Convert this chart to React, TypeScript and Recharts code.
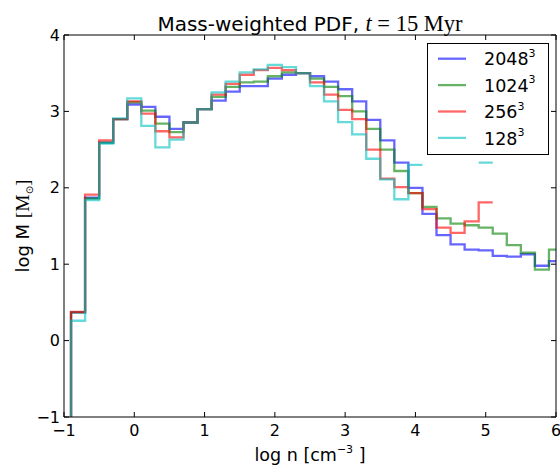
import React from 'react';
import { LineChart, Line, XAxis, YAxis } from 'recharts';

// bin centres in log n (bin width 0.2)
const binCenters = [
  -1.0, -0.8, -0.6, -0.4, -0.2, 0.0, 0.2, 0.4, 0.6, 0.8, 1.0, 1.2,
  1.4, 1.6, 1.8, 2.0, 2.2, 2.4, 2.6, 2.8, 3.0, 3.2, 3.4, 3.6,
  3.8, 4.0, 4.2, 4.4, 4.6, 4.8, 5.0, 5.2, 5.4, 5.6, 5.8, 6.0
];

// log M per bin, null = empty bin
const mass2048 = [
  -2, 0.37, 1.87, 2.59, 2.9, 3.09, 3.06, 2.93, 2.77, 2.855, 3.03, 3.14,
  3.26, 3.33, 3.33, 3.43, 3.48, 3.5, 3.46, 3.39, 3.29, 3.13, 2.89, 2.62,
  2.33, 2.0, 1.66, 1.38, 1.26, 1.19, 1.18, 1.11, 1.1, 1.13, 0.98, 1.04
];
const mass1024 = [
  -2, 0.37, 1.86, 2.59, 2.9, 3.12, 3.01, 2.84, 2.73, 2.855, 3.03, 3.19,
  3.32, 3.38, 3.39, 3.46, 3.51, 3.5, 3.43, 3.32, 3.2, 3.0, 2.77, 2.5,
  2.22, 1.93, 1.75, 1.6, 1.53, 1.51, 1.48, 1.4, 1.25, 1.15, 0.93, 1.19
];
const mass256 = [
  -2, 0.375, 1.91, 2.62, 2.9, 3.13, 2.97, 2.74, 2.66, 2.855, 3.03, 3.22,
  3.36, 3.48, 3.54, 3.57, 3.54, 3.5, 3.38, 3.22, 3.02, 2.9, 2.5, 2.12,
  2.01, 1.93, 1.72, 1.48, 1.41, 1.56, 1.81, null, null, null, null, null
];
const mass128 = [
  -2, 0.26, 1.84, 2.58, 2.91, 3.17, 2.81, 2.53, 2.63, 2.855, 3.03, 3.25,
  3.39, 3.51, 3.55, 3.61, 3.58, 3.5, 3.33, 3.13, 2.86, 2.7, 2.38, 2.11,
  1.85, 2.3, null, null, null, null, 2.33, null, null, null, null, null
];

const xTicks = [-1, 0, 1, 2, 3, 4, 5, 6];
const yTicks = [-1, 0, 1, 2, 3, 4];

const series = [
  { key: 'm2048', label: '2048', color: '#0000ff', values: mass2048 },
  { key: 'm1024', label: '1024', color: '#008000', values: mass1024 },
  { key: 'm256', label: '256', color: '#ff0000', values: mass256 },
  { key: 'm128', label: '128', color: '#00bfbf', values: mass128 }
];

const HALF_BIN = 0.1;
const FONT = 'DejaVu Sans';
const SERIF = 'Liberation Serif';

// two rows per bin (left and right edge) -> histogram steps
const buildRows = () => {
  const rows: Array<Record<string, number | null>> = [];
  binCenters.forEach((c, i) => {
    [c - HALF_BIN, c + HALF_BIN].forEach((x) => {
      const row: Record<string, number | null> = { x };
      series.forEach((s) => {
        row[s.key] = s.values[i];
      });
      rows.push(row);
    });
  });
  return rows;
};

const rows = buildRows();

const fmtTick = (v: number) => (v < 0 ? `\u2212${Math.abs(v)}` : `${v}`);
const noTick = () => <g />;

const tickStyle = { fill: '#000', fontSize: 16, fontFamily: FONT };

const legendTop = 58.7;
const legendGap = 26.4;

export default function App() {
  return (
    <div style={{ position: 'absolute', left: 0, top: 0, width: 560, height: 466, background: '#fff' }}>
      <LineChart
        width={560}
        height={466}
        data={rows}
        margin={{ top: 34, right: 3, left: 0, bottom: 0 }}
      >
        <XAxis
          dataKey="x"
          type="number"
          domain={[-1, 6]}
          ticks={xTicks}
          allowDataOverflow
          height={49}
          stroke="#000"
          tickSize={-5}
          tickMargin={13}
          tick={tickStyle}
          tickFormatter={fmtTick}
        />
        <XAxis
          xAxisId="top"
          orientation="top"
          dataKey="x"
          type="number"
          domain={[-1, 6]}
          ticks={xTicks}
          allowDataOverflow
          height={1}
          stroke="#000"
          tickSize={-5}
          tick={noTick}
        />
        <YAxis
          type="number"
          domain={[-1, 4]}
          ticks={yTicks}
          allowDataOverflow
          width={64}
          stroke="#000"
          tickSize={-5}
          tickMargin={9}
          tick={tickStyle}
          tickFormatter={fmtTick}
        />
        <YAxis
          yAxisId="right"
          orientation="right"
          type="number"
          domain={[-1, 4]}
          ticks={yTicks}
          allowDataOverflow
          width={1}
          stroke="#000"
          tickSize={-5}
          tick={noTick}
        />
        {series.map((s) => (
          <Line
            key={s.key}
            type="linear"
            dataKey={s.key}
            stroke={s.color}
            strokeOpacity={0.6}
            strokeWidth={2.3}
            dot={false}
            activeDot={false}
            connectNulls={false}
            isAnimationActive={false}
          />
        ))}
      </LineChart>

      <svg
        width={560}
        height={466}
        style={{ position: 'absolute', left: 0, top: 0, pointerEvents: 'none' }}
      >
        <text x={310} y={30.5} textAnchor="middle" fontSize={20} fontFamily={FONT} fill="#000">
          Mass-weighted PDF,{' '}
          <tspan fontFamily={SERIF} fontStyle="italic" fontSize={22.5}>t</tspan>
          <tspan fontFamily={SERIF} fontSize={22.5}>{' = 15 Myr'}</tspan>
        </text>

        <text x={310} y={461} textAnchor="middle" fontSize={17.5} fontFamily={FONT} fill="#000">
          log n [cm
          <tspan fontSize={11} dy={-8.5}>{'\u22123'}</tspan>
          <tspan dy={8.5}>{' ]'}</tspan>
        </text>

        <text
          transform="translate(29,226) rotate(-90)"
          textAnchor="middle"
          fontSize={18}
          fontFamily={FONT}
          fill="#000"
        >
          log M{' '}
          <tspan fontFamily={SERIF} fontSize={19.5}>[M</tspan>
          <tspan fontSize={10} dy={4}>{'\u2299'}</tspan>
          <tspan fontFamily={SERIF} fontSize={19.5} dy={-4}>]</tspan>
        </text>

        <rect x={427.5} y={43.5} width={121} height={111} fill="#fff" stroke="#000" strokeWidth={1} />
        {series.map((s, i) => {
          const y = legendTop + i * legendGap;
          return (
            <g key={s.key}>
              <line x1={438} x2={466} y1={y} y2={y} stroke={s.color} strokeOpacity={0.6} strokeWidth={2.3} />
              <text x={484} y={y + 6.6} fontSize={17.5} fontFamily={FONT} fill="#000">
                {s.label}
                <tspan fontSize={11} dy={-8.5}>3</tspan>
              </text>
            </g>
          );
        })}
      </svg>
    </div>
  );
}
